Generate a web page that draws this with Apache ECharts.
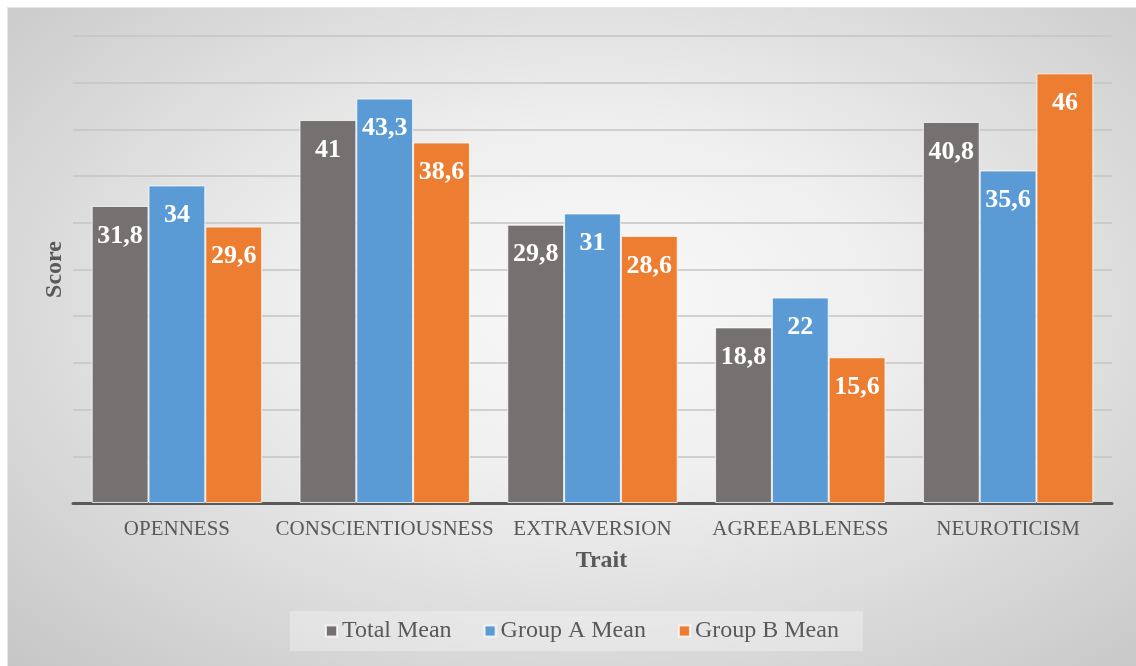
<!DOCTYPE html>
<html>
<head>
<meta charset="utf-8">
<script src="https://cdn.jsdelivr.net/npm/echarts@6/dist/echarts.min.js"></script>
<style>
  html, body { margin: 0; padding: 0; background: #ffffff; width: 1136px; height: 666px; overflow: hidden; }
  #bg { position: absolute; left: 7px; top: 7px; width: 1129px; height: 659px;
        background: radial-gradient(ellipse at 52% 45%, #f9f9f9 0%, #efefef 35%, #dadada 68%, #c6c6c6 100%);
        border-left: 1px solid #e6e6e6; border-top: 1px solid #e6e6e6; box-sizing: border-box; }
  #chart { position: absolute; left: 0; top: 0; width: 1136px; height: 666px; }
</style>
</head>
<body>
<div id="bg"></div>
<div id="chart"></div>
<script>
const categories = ['OPENNESS', 'CONSCIENTIOUSNESS', 'EXTRAVERSION', 'AGREEABLENESS', 'NEUROTICISM'];
const totalMean = [31.8, 41, 29.8, 18.8, 40.8];
const groupAMean = [34, 43.3, 31, 22, 35.6];
const groupBMean = [29.6, 38.6, 28.6, 15.6, 46];
const seriesNames = ['Total Mean', 'Group A Mean', 'Group B Mean'];
const colors = ['#767171', '#5B9BD5', '#ED7D31'];

const font = '"Liberation Serif", "Times New Roman", serif';
const chart = echarts.init(document.getElementById('chart'), null, { renderer: 'canvas' });

function makeSeries(name, data, color) {
  return {
    name: name,
    type: 'bar',
    data: data,
    barGap: '0%',
    barCategoryGap: '18%',
    itemStyle: { color: color, borderColor: 'rgba(255,255,255,0.75)', borderWidth: 1 },
    label: {
      show: true,
      position: 'insideTop',
      distance: 17,
      color: '#ffffff',
      fontFamily: font,
      fontWeight: 'bold',
      fontSize: 26,
      formatter: p => String(p.value).replace('.', ',')
    },
    emphasis: { disabled: true }
  };
}

chart.setOption({
  backgroundColor: 'transparent',
  animation: false,
  color: colors,
  grid: { left: 73, right: 24, top: 36, bottom: 163, containLabel: false },
  legend: {
    data: seriesNames,
    top: 611,
    left: 290,
    icon: 'rect',
    itemWidth: 11,
    itemHeight: 11,
    itemGap: 32,
    padding: [8, 24, 8, 35],
    backgroundColor: 'rgba(255,255,255,0.3)',
    textStyle: { fontFamily: font, fontSize: 24, color: '#595959' }
  },
  xAxis: {
    type: 'category',
    data: categories,
    name: 'Trait',
    nameLocation: 'middle',
    nameGap: 46,
    nameTextStyle: { fontFamily: font, fontSize: 24, fontWeight: 'bold', color: '#595959', padding: [0, 0, 0, 18] },
    axisLine: { show: true, lineStyle: { color: '#595959', width: 3 } },
    axisTick: { show: false },
    axisLabel: { fontFamily: font, fontSize: 21, color: '#595959', margin: 16, interval: 0 }
  },
  yAxis: {
    type: 'value',
    min: 0,
    max: 50,
    interval: 5,
    name: 'Score',
    nameLocation: 'middle',
    nameGap: 6,
    nameTextStyle: { fontFamily: font, fontSize: 24, fontWeight: 'bold', color: '#595959' },
    axisLine: { show: false },
    axisTick: { show: false },
    axisLabel: { show: false },
    splitLine: { show: true, lineStyle: { color: '#c4c4c4', width: 1.5 } }
  },
  series: [
    makeSeries(seriesNames[0], totalMean, colors[0]),
    makeSeries(seriesNames[1], groupAMean, colors[1]),
    makeSeries(seriesNames[2], groupBMean, colors[2])
  ]
});
</script>
</body>
</html>
